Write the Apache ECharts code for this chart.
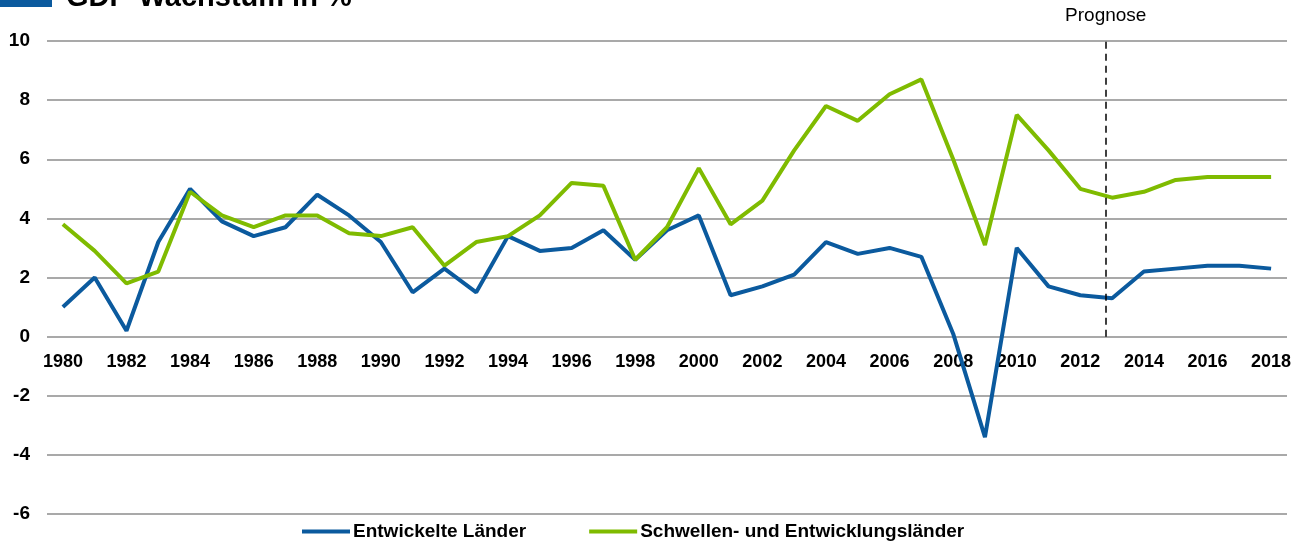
<!DOCTYPE html>
<html>
<head>
<meta charset="utf-8">
<script src="https://cdn.jsdelivr.net/npm/echarts@6/dist/echarts.min.js"></script>
<style>
  html, body { margin: 0; padding: 0; background: #fff; }
  #chart { width: 1307px; height: 544px; }
</style>
</head>
<body>
<div id="chart"></div>
<script>
  // Jahre
  var years = ['1980','1981','1982','1983','1984','1985','1986','1987','1988','1989',
    '1990','1991','1992','1993','1994','1995','1996','1997','1998','1999',
    '2000','2001','2002','2003','2004','2005','2006','2007','2008','2009',
    '2010','2011','2012','2013','2014','2015','2016','2017','2018']

  // GDP-Wachstum in %
  var entwickelt = [1.0, 2.0, 0.2, 3.2, 5.0, 3.9, 3.4, 3.7, 4.8, 4.1,
    3.2, 1.5, 2.3, 1.5, 3.4, 2.9, 3.0, 3.6, 2.6, 3.6,
    4.1, 1.4, 1.7, 2.1, 3.2, 2.8, 3.0, 2.7, 0.1, -3.4,
    3.0, 1.7, 1.4, 1.3, 2.2, 2.3, 2.4, 2.4, 2.3]

  var schwellen = [3.8, 2.9, 1.8, 2.2, 4.9, 4.1, 3.7, 4.1, 4.1, 3.5,
    3.4, 3.7, 2.4, 3.2, 3.4, 4.1, 5.2, 5.1, 2.6, 3.7,
    5.7, 3.8, 4.6, 6.3, 7.8, 7.3, 8.2, 8.7, 6.0, 3.1,
    7.5, 6.3, 5.0, 4.7, 4.9, 5.3, 5.4, 5.4, 5.4]

  var prognoseJahr = 2012.8   // Beginn Prognose (gestrichelte Linie)

  var blau = '#0b5a9e'
  var gruen = '#7fbb00'
  var font = '"Liberation Sans", Arial, sans-serif'

  // Plotbereich: oben 41px, unten 30px -> Nulllinie liegt 10/16 der Höhe unter dem oberen Rand
  var gridTop = 41, gridBottom = 30, chartH = 544
  var plotH = chartH - gridTop - gridBottom
  var zeroOffset = -plotH * 6 / 16

  var chart = echarts.init(document.getElementById('chart'))

  var options = {
    animation: false,
    textStyle: { fontFamily: font },
    graphic: [
      { type: 'rect', left: 0, top: 0, shape: { width: 52, height: 7 }, style: { fill: blau } },
      { type: 'text', x: 66, y: -2,
        style: { text: 'GDP-Wachstum in %', font: 'bold 29px ' + font, fill: '#000', verticalAlign: 'middle' } }
    ],
    legend: {
      top: 517,
      left: 297,
      icon: 'rect',
      itemWidth: 48,
      itemHeight: 4,
      itemGap: 63,
      textStyle: { fontSize: 19, fontWeight: 'bold', color: '#000', padding: [0, 0, 0, -2] },
      data: ['Entwickelte Länder', 'Schwellen- und Entwicklungsländer']
    },
    grid: { left: 47, right: 20, top: gridTop, bottom: gridBottom, containLabel: false },
    xAxis: [{
      type: 'category',
      boundaryGap: true,
      data: years,
      offset: zeroOffset,
      axisLine: { show: false, onZero: false },
      axisTick: { show: false },
      axisLabel: { interval: 1, fontSize: 18, fontWeight: 'bold', color: '#000', margin: 16 }
    }, {
      type: 'value',
      min: 1979.5,
      max: 2018.5,
      show: false,
      axisLine: { onZero: false }
    }],
    yAxis: {
      type: 'value',
      min: -6,
      max: 10,
      interval: 2,
      axisLine: { show: false, onZero: false },
      axisTick: { show: false },
      axisLabel: { fontSize: 19, fontWeight: 'bold', color: '#000', margin: 17 },
      splitLine: { lineStyle: { color: '#8c8c8c', width: 1.5 } }
    },
    series: [
      {
        name: 'Entwickelte Länder',
        type: 'line',
        data: entwickelt,
        symbol: 'none',
        color: blau,
        lineStyle: { width: 4, color: blau },
        z: 3
      },
      {
        name: 'Schwellen- und Entwicklungsländer',
        type: 'line',
        data: schwellen,
        symbol: 'none',
        color: gruen,
        lineStyle: { width: 4, color: gruen },
        z: 3
      },
      {
        type: 'line',
        xAxisIndex: 1,
        data: [],
        markLine: {
          silent: true,
          symbol: 'none',
          lineStyle: { color: '#000', type: [7, 5], width: 1.5 },
          label: {
            show: true,
            position: 'end',
            formatter: 'Prognose',
            fontSize: 19,
            color: '#000',
            distance: 16
          },
          data: [[{ coord: [prognoseJahr, 0] }, { coord: [prognoseJahr, 10] }]]
        }
      }
    ]
  }

  chart.setOption(options)
</script>
</body>
</html>
